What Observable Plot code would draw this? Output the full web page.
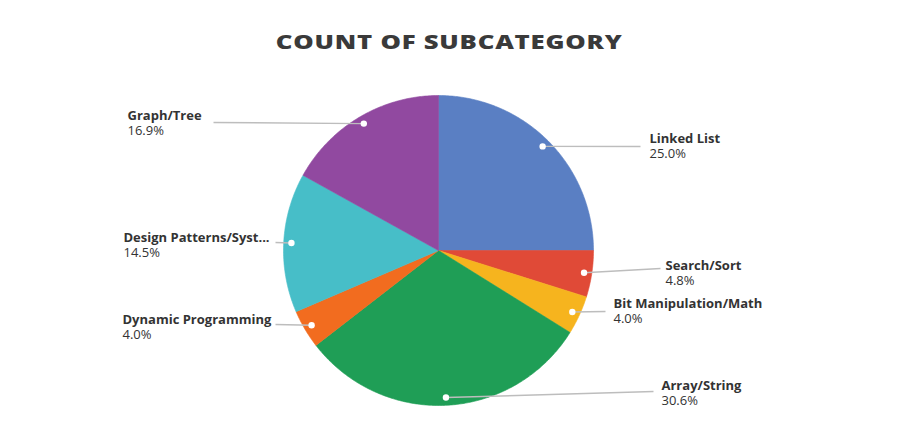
<!DOCTYPE html>
<html><head><meta charset="utf-8">
<script src="https://cdn.jsdelivr.net/npm/d3@7"></script>
<script src="https://cdn.jsdelivr.net/npm/@observablehq/plot@0.6"></script>
<style>body{margin:0;background:#fff}</style>
</head><body><div id="chart"></div>
<script>
// ---- data ----
const categories = ["Linked List","Search/Sort","Bit Manipulation/Math","Array/String","Dynamic Programming","Design Patterns/Syst...","Graph/Tree"];
const counts = [62, 12, 10, 76, 10, 36, 42];
const colors = ["#5a7fc3","#e04a37","#f6b41e","#1f9e56","#f26c1f","#47bec8","#9149a0"];
const title = "COUNT OF SUBCATEGORY";

// ---- layout (pixels) ----
const CX = 438, CY = 250, R = 155;
const TITLE_CX = 448.5, TITLE_W = 347;
// leader line end [x,y], text x, name baseline y
const labelLayout = [
  {ex: 640, ey: 146, tx: 649, ty: 142},
  {ex: 660, ey: 268, tx: 665, ty: 269},
  {ex: 605, ey: 311, tx: 613, ty: 307},
  {ex: 653, ey: 391, tx: 661, ty: 389},
  {ex: 275, ey: 324, tx: 122, ty: 323},
  {ex: 275, ey: 242, tx: 123, ty: 241},
  {ex: 213, ey: 122, tx: 127, ty: 119}
];
const ux = px => (px - CX) / R;
const vy = py => (CY - py) / R;

const total = d3.sum(counts);
const pie = d3.pie().sort(null).value(d => d)(counts);

const polys = [];
const labels = [];
pie.forEach((p, i) => {
  const name = categories[i];
  polys.push({name, x: 0, y: 0});
  const steps = Math.max(4, Math.ceil((p.endAngle - p.startAngle) / 0.01));
  for (let k = 0; k <= steps; k++) {
    const a = p.startAngle + (p.endAngle - p.startAngle) * k / steps;
    polys.push({name, x: Math.sin(a), y: Math.cos(a)});
  }
  polys.push({name, x: 0, y: 0});
  const mid = (p.startAngle + p.endAngle) / 2;
  const L = labelLayout[i];
  labels.push({
    name,
    pct: (counts[i] / total * 100).toFixed(1) + "%",
    dx: 0.95 * Math.sin(mid), dy: 0.95 * Math.cos(mid),
    ex: ux(L.ex), ey: vy(L.ey),
    tx: ux(L.tx), ty: vy(L.ty), ty2: vy(L.ty + 15)
  });
});

const chart = Plot.plot({
  width: 900, height: 439,
  margin: 0,
  style: {background: "#fff", fontFamily: "'Open Sans', sans-serif"},
  x: {domain: [-1, 1], range: [CX - R, CX + R], axis: null},
  y: {domain: [-1, 1], range: [CY + R, CY - R], axis: null},
  color: {domain: categories, range: colors},
  marks: [
    Plot.line(polys, {x: "x", y: "y", z: "name", fill: "name", stroke: "name", strokeWidth: 0.6, curve: "linear"}),
    Plot.link(labels, {x1: "dx", y1: "dy", x2: "ex", y2: "ey", stroke: "#bdbdbd", strokeWidth: 1.4}),
    Plot.dot(labels, {x: "dx", y: "dy", r: 3.2, fill: "#fff", stroke: null}),
    Plot.text(labels, {x: "tx", y: "ty", text: "name", textAnchor: "start", lineAnchor: "bottom", fontSize: 13, fontWeight: 700, fill: "#333"}),
    Plot.text(labels, {x: "tx", y: "ty2", text: "pct", textAnchor: "start", lineAnchor: "bottom", fontSize: 13, fontWeight: 400, fill: "#333"}),
    Plot.text([title], {frameAnchor: "top", dy: 48, dx: TITLE_CX - 450, lineAnchor: "bottom", text: d => d, fontSize: 19.5, fontWeight: 800, fontFamily: "'Open Sans', sans-serif", fill: "#3a3a3a", className: "ttl"})
  ]
});
document.getElementById("chart").appendChild(chart);
const g = chart.querySelector("g.ttl");
const t = g && g.querySelector("text");
if (t) {
  t.style.letterSpacing = "0.6px";
  const w = t.getComputedTextLength();
  const s = TITLE_W / w;
  const prev = g.getAttribute("transform") || "";
  g.setAttribute("transform", `translate(${TITLE_CX},0) scale(${s},1) translate(${-TITLE_CX},0) ${prev}`);
}
</script>
</body></html>
